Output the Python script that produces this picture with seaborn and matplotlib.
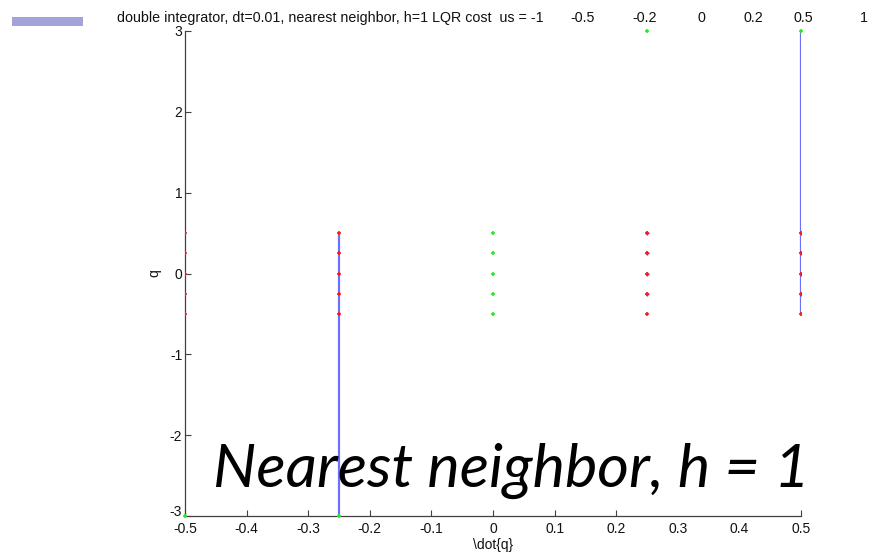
import matplotlib
matplotlib.use("Agg")
import matplotlib.pyplot as plt
import matplotlib.transforms as mtransforms
from matplotlib.patches import Rectangle
import seaborn as sns
import pandas as pd

# Grid states (qdot, q) and the marker colour each one is drawn with
red_qdot = [-0.5, -0.5, -0.5, -0.5, -0.5,
            -0.25, -0.25, -0.25, -0.25, -0.25,
            0.25, 0.25, 0.25, 0.25, 0.25,
            0.5, 0.5, 0.5, 0.5, 0.5]
red_q = [0.5, 0.25, 0, -0.25, -0.5,
         0.5, 0.25, 0, -0.25, -0.5,
         0.5, 0.25, 0, -0.25, -0.5,
         0.5, 0.25, 0, -0.25, -0.5]
green_qdot = [-0.5, -0.25, 0, 0, 0, 0, 0, 0.25, 0.5]
green_q = [-3, -3, 0.5, 0.25, 0, -0.25, -0.5, 3, 3]
blue_qdot = [0.25, 0.25, 0.25, 0.25, 0.5, 0.5, 0.5, 0.5]
blue_q = [0.5, 0.25, 0, -0.25, 0.5, 0.25, 0, -0.25]

# Simulated trajectories (vertical segments in qdot, q)
traj_qdot = [[-0.25, -0.25], [0.5, 0.5]]
traj_q = [[-3, 0.5], [3, -0.5]]

us_labels = ["-1", "-0.5", "-0.2", "0", "0.2", "0.5", "1"]
x_ticks = [-0.5, -0.4, -0.3, -0.2, -0.1, 0, 0.1, 0.2, 0.3, 0.4, 0.5]
y_ticks = [-3, -2, -1, 0, 1, 2, 3]

sns.set_style("white")
plt.rcParams["font.family"] = ["Liberation Sans", "DejaVu Sans"]

fig = plt.figure(figsize=(8.71, 5.56), dpi=100)
ax = fig.add_axes([185 / 871, 1 - 516 / 556, (801 - 185) / 871, (516 - 31) / 556])

for xs, ys in zip(traj_qdot, traj_q):
    ax.plot(xs, ys, color="#6f6fff", lw=1.6, zorder=2)

pts = pd.DataFrame({
    "qdot": red_qdot + blue_qdot + green_qdot,
    "q": red_q + blue_q + green_q,
    "kind": ["r"] * len(red_q) + ["b"] * len(blue_q) + ["g"] * len(green_q),
})
sns.scatterplot(data=pts[pts.kind == "b"], x="qdot", y="q", color="#4040ff",
                marker="+", s=7, linewidth=1.0, ax=ax, zorder=3, legend=False)
sns.scatterplot(data=pts[pts.kind == "r"], x="qdot", y="q", color="#ff1a1a",
                marker="+", s=6, linewidth=1.2, ax=ax, zorder=4, legend=False)
sns.scatterplot(data=pts[pts.kind == "g"], x="qdot", y="q", color="#22ee22",
                marker="+", s=6, linewidth=1.2, ax=ax, zorder=4, legend=False,
                clip_on=False)

ax.set_xlim(-0.5, 0.5)
ax.set_ylim(-3, 3)
ax.set_xticks(x_ticks)
ax.set_xticklabels(["%g" % t for t in x_ticks])
ax.set_yticks(y_ticks)
ax.set_yticklabels(["%g" % t for t in y_ticks])
ax.tick_params(direction="in", length=4, width=0.8, color="#404040",
               labelsize=10, labelcolor="#111111", pad=2,
               bottom=True, left=True)
ax.tick_params(axis="x", pad=4)
for tk in ax.xaxis.get_major_ticks():
    if abs(tk.get_loc() - 0.3) < 1e-9 or abs(tk.get_loc() - 0.4) < 1e-9:
        tk.tick1line.set_visible(False)
# lift the lowest q label so it clears the first qdot label
low_label = ax.get_yticklabels()[0]
low_label.set_transform(low_label.get_transform() +
                        mtransforms.ScaledTranslation(0, 5 / 100, fig.dpi_scale_trans))
for side in ("top", "right"):
    ax.spines[side].set_visible(False)
for side in ("left", "bottom"):
    ax.spines[side].set_color("#404040")
    ax.spines[side].set_linewidth(0.9)

ax.set_xlabel(r"\dot{q}", fontsize=10, labelpad=2, color="#111111")
ax.set_ylabel("q", fontsize=10, labelpad=6, color="#111111")

# Title line with the control set
fig.text(117 / 871, 1 - 18 / 556,
         "double integrator, dt=0.01, nearest neighbor, h=1 LQR cost  us = -1",
         fontsize=10.3, va="center", ha="left", color="#111111")
us_x = [None, 583, 645, 701, 753, 803, 864]
for lab, px in zip(us_labels[1:], us_x[1:]):
    fig.text(px / 871, 1 - 18 / 556, lab, fontsize=10.3, va="center",
             ha="center", color="#111111")

# Slide accent bar and caption
fig.add_artist(Rectangle((12 / 871, 1 - 26 / 556), 71 / 871, 9 / 556,
                         transform=fig.transFigure, color="#a3a3d9", lw=0))
fig.text(810 / 871, 1 - 487 / 556, "Nearest neighbor, h = 1",
         fontsize=44, style="italic", family=["Lato", "DejaVu Sans"],
         ha="right", va="baseline", color="black", zorder=10)

fig.savefig("out.png", dpi=100)
